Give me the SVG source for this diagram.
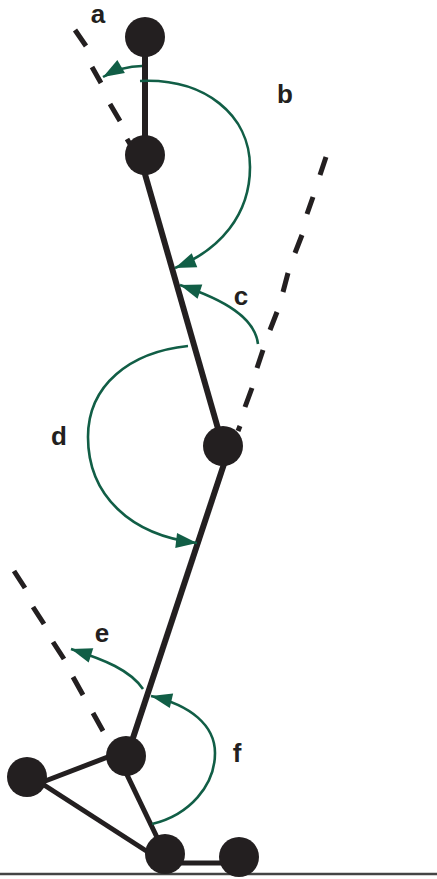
<svg xmlns="http://www.w3.org/2000/svg" width="437" height="879" viewBox="0 0 437 879">
<style>
.n{fill:#231f20}
.b{stroke:#231f20;stroke-width:6;fill:none}
.t{stroke:#231f20;stroke-width:5;fill:none}
.d{stroke:#231f20;stroke-width:5;fill:none}
.h{stroke:#115e46;stroke-width:2.6;fill:none;marker-end:url(#ah)}
text{font-family:"Liberation Sans",Arial,sans-serif;font-weight:bold;font-size:26px;fill:#231f20;text-anchor:middle}
</style>
<defs>
<marker id="ah" markerUnits="userSpaceOnUse" markerWidth="24" markerHeight="18" refX="23" refY="9" orient="auto" viewBox="0 0 24 18">
<path d="M2,1.5 L23,9 L2,16.5 Z" fill="#115e46"/>
</marker>
</defs>
<rect width="437" height="879" fill="#fff"/>
<g id="ground"><line x1="0" y1="874" x2="437" y2="874" stroke="#444" stroke-width="2.5"/></g>
<g id="connectors">
<line class="b" x1="145" y1="37" x2="145" y2="155"/>
<line class="b" x1="139.5" y1="155" x2="223" y2="446"/>
<line class="b" x1="230" y1="446" x2="127" y2="756"/>
<line class="t" x1="126" y1="750" x2="27" y2="788"/>
<line class="t" x1="118" y1="756" x2="165" y2="854"/>
<line class="t" x1="27" y1="774" x2="165" y2="863"/>
<line class="t" x1="165" y1="863" x2="239" y2="863"/>
<g id="dashes">
<path class="d" d="M75,30L86,46M92,67L101,83M110,104L120,121M127,139L130,144"/>
<path class="d" d="M326,157L320,175M313,197L307,214M302,235L295,253M288,273L283,292M277,312L270,330M263,350L257,368M252,388L245,407M240,426L238,431"/>
<path class="d" d="M14,571L25,588M33,607L44,624M53,642L64,659M73,677L83,695M93,713L103,731"/>
</g>
<g id="arcs">
<path class="h" d="M142,66C128,66 115,70 103,77"/>
<path class="h" d="M140,81C205,78 250,115 250,167C250,215 220,250 175,268"/>
<path class="h" d="M258,344C255,318 225,300 180,285"/>
<path class="h" d="M188,346C130,352 88,385 88,437C88,495 130,535 197,543"/>
<path class="h" d="M143,689C130,670 105,660 71,649"/>
<path class="h" d="M152,824C190,815 215,785 215,753C215,725 190,705 151,696"/>
</g>
</g>
<g id="node-head"><circle class="n" cx="145" cy="37" r="20"/></g>
<g id="node-neck"><circle class="n" cx="145" cy="155" r="20"/></g>
<g id="node-hip"><circle class="n" cx="223" cy="446" r="20"/></g>
<g id="node-knee"><circle class="n" cx="126" cy="756" r="20"/></g>
<g id="node-left"><circle class="n" cx="27" cy="777" r="20"/></g>
<g id="node-ankle"><circle class="n" cx="165" cy="854" r="20"/></g>
<g id="node-toe"><circle class="n" cx="239" cy="857" r="20"/></g>
<g id="labels">
<text x="98" y="23">a</text>
<text x="285" y="103">b</text>
<text x="241" y="305">c</text>
<text x="59" y="445">d</text>
<text x="102" y="642">e</text>
<text x="237" y="762">f</text>
</g>
</svg>
